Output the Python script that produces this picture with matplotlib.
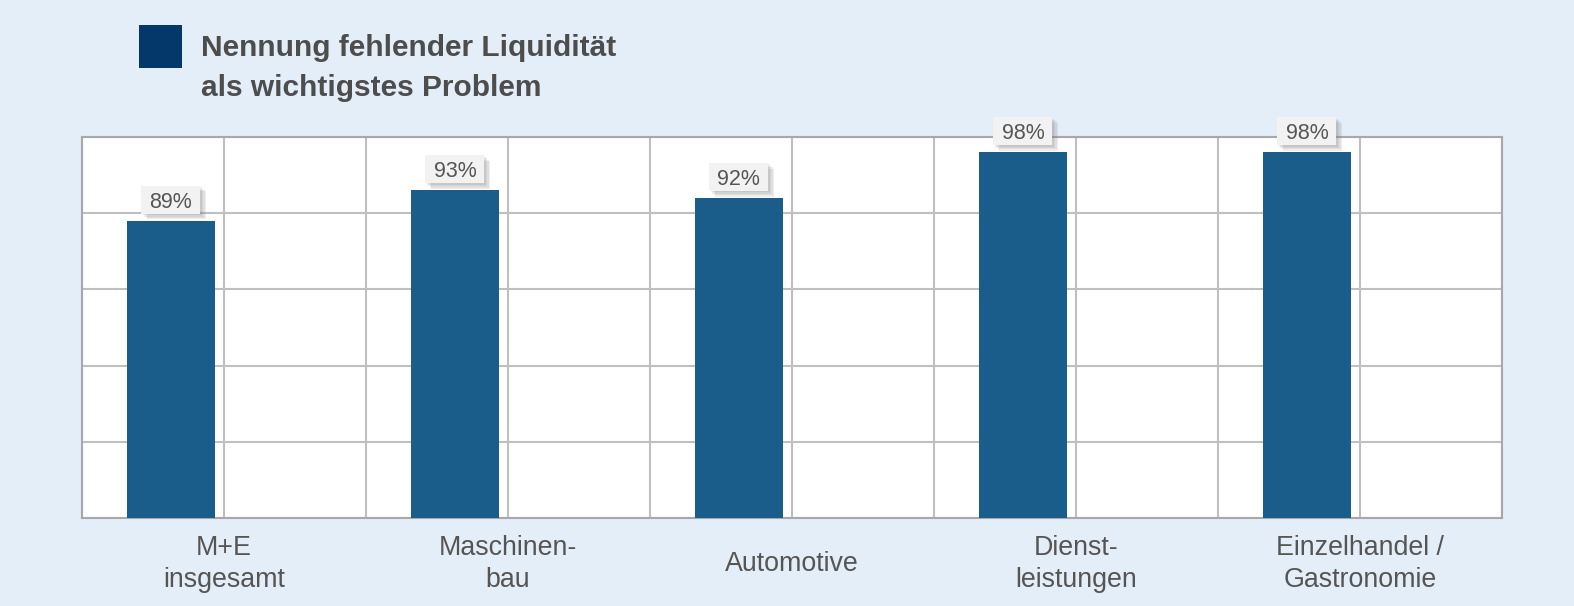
import matplotlib
matplotlib.use("Agg")
import matplotlib.pyplot as plt
import matplotlib.patheffects as pe
from matplotlib.patches import Rectangle
from matplotlib.transforms import IdentityTransform
import numpy as np

plt.rcParams['font.family'] = ['Liberation Sans', 'DejaVu Sans']

categories = ["M+E\ninsgesamt", "Maschinen-\nbau", "Automotive", "Dienst-\nleistungen", "Einzelhandel /\nGastronomie"]
values = [89, 93, 92, 98, 98]
value_labels = ["89%", "93%", "92%", "98%", "98%"]
legend_title = ["Nennung fehlender Liquidität", "als wichtigstes Problem"]
y_ticks = [50, 60, 70, 80, 90, 100]

BG = "#e4eef8"
BAR = "#1a5c8a"
TXT = "#555555"
GRID = "#bfbfbf"

DPI = 100
fig = plt.figure(figsize=(15.74, 6.06), dpi=DPI, facecolor=BG)
W, H = 1574, 606
ax = fig.add_axes([82 / W, (H - 518) / H, 1420 / W, 381 / H])
ax.set_facecolor("white")

x = np.arange(len(categories))
offset = -0.187
width = 0.31
ax.bar(x + offset, values, width=width, color=BAR, zorder=3)

ax.set_xlim(-0.5, len(categories) - 0.5)
ax.set_ylim(y_ticks[0], y_ticks[-1])
ax.set_yticks(y_ticks)
ax.set_yticklabels([])
ax.set_xticks(x)
ax.set_xticks(np.arange(-0.5, len(categories), 1.0), minor=True)
ax.set_xticklabels(categories, fontsize=19.3, color=TXT, va="center", linespacing=1.3)
ax.tick_params(axis="x", which="both", length=0, pad=33)
ax.tick_params(axis="y", length=0)
ax.grid(True, which="both", axis="x", color=GRID, linewidth=1.5, zorder=0)
ax.grid(True, which="major", axis="y", color=GRID, linewidth=1.5, zorder=0)
for s in ax.spines.values():
    s.set_color("#a8a8a8")
    s.set_linewidth(1.5)

# value label boxes (pixel geometry from the bar tops)
fig.canvas.draw()
box_w, box_h, gap = 59, 28, 7
shadow = [pe.SimplePatchShadow(offset=(k, -k), shadow_rgbFace="#7f7f7f", alpha=0.13) for k in (4, 3, 2, 1)]
for xi, v, lab in zip(x, values, value_labels):
    px, py = ax.transData.transform((xi + offset, v))
    rect = Rectangle((px - box_w / 2, py + gap), box_w, box_h, transform=IdentityTransform(),
                     facecolor="#f2f2f2", edgecolor="none", zorder=10)
    rect.set_path_effects(shadow + [pe.Normal()])
    fig.add_artist(rect)
    fig.text(px / W, (py + gap + box_h / 2) / H, lab, ha="center", va="center_baseline",
             fontsize=15.5, color=TXT, zorder=11)

fig.patches.append(Rectangle((139 / W, 1 - 68 / H), 43 / W, 43 / H, transform=fig.transFigure,
                             facecolor="#04386b", edgecolor="none"))
fig.text(201 / W, 1 - 56 / H, legend_title[0], fontsize=21.5, fontweight="bold", color="#4d4d4d", va="baseline")
fig.text(201 / W, 1 - 96 / H, legend_title[1], fontsize=21.5, fontweight="bold", color="#4d4d4d", va="baseline")

fig.savefig("out.png", dpi=DPI, facecolor=BG)
